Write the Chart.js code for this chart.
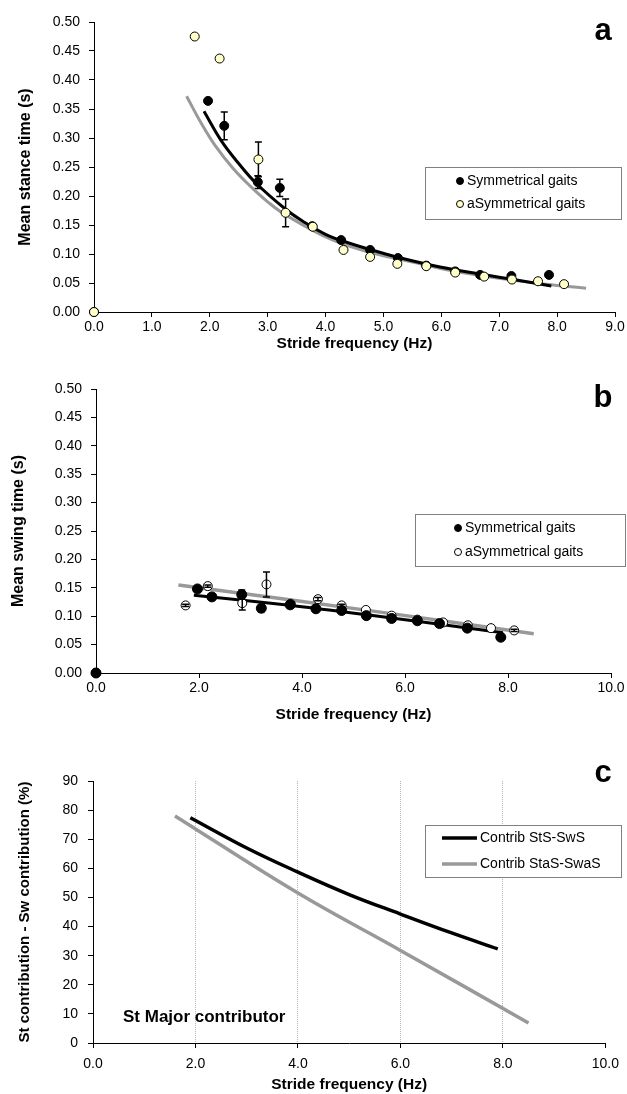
<!DOCTYPE html>
<html>
<head>
<meta charset="utf-8">
<title>Stance / swing time vs stride frequency</title>
<script src="https://cdn.jsdelivr.net/npm/chart.js@4.4.1/dist/chart.umd.min.js"></script>
<style>
  body { margin: 0; background: #fff; }
  #wrap { position: relative; width: 627px; height: 1094px; }
  canvas { position: absolute; left: 0; }
</style>
</head>
<body>
<div id="wrap">
  <canvas id="chartA" width="627" height="357" style="top:0px"></canvas>
  <canvas id="chartB" width="627" height="368" style="top:360px"></canvas>
  <canvas id="chartC" width="627" height="354" style="top:740px"></canvas>
</div>
<script>
// ---- data ----
// symmetrical gaits (black dots)
const symFreq   = [0, 1.97, 2.25, 2.83, 3.21, 3.77, 4.27, 4.77, 5.25, 5.74, 6.24, 6.67, 7.21, 7.86];
const symStance = [0, 0.364, 0.321, 0.224, 0.214, 0.148, 0.124, 0.107, 0.093, 0.080, 0.070, 0.064, 0.062, 0.064];
const symStanceErr = [0, 0, 0.024, 0.011, 0.015, 0, 0, 0, 0, 0, 0, 0, 0, 0];
const symSwing  = [0, 0.148, 0.134, 0.138, 0.114, 0.120, 0.113, 0.110, 0.101, 0.096, 0.092, 0.087, 0.079, 0.063];
const symSwingErr = [0, 0, 0.005, 0.008, 0.006, 0, 0, 0, 0, 0, 0, 0, 0, 0];

// asymmetrical gaits
const asymFreq   = [0, 1.74, 2.17, 2.84, 3.31, 3.78, 4.31, 4.77, 5.24, 5.74, 6.24, 6.74, 7.22, 7.67, 8.12];
const asymStance = [0, 0.475, 0.437, 0.263, 0.171, 0.147, 0.107, 0.095, 0.083, 0.079, 0.068, 0.061, 0.056, 0.053, 0.048];
const asymStanceErr = [0, 0, 0, 0.030, 0.024, 0, 0, 0, 0, 0, 0, 0, 0, 0, 0];
const asymSwing  = [0, 0.119, 0.153, 0.123, 0.156, 0.122, 0.130, 0.119, 0.111, 0.101, 0.094, 0.089, 0.084, 0.079, 0.075];
const asymSwingErr = [0, 0.002, 0.002, 0.012, 0.022, 0, 0.003, 0.002, 0, 0, 0, 0, 0, 0, 0.002];

// fitted curves
const symStanceFitX  = [1.90, 2.2, 2.5, 2.8, 3.3, 3.6, 4.0, 4.4, 4.8, 5.3, 6.0, 6.7, 7.3, 7.9];
const symStanceFitY  = [0.346, 0.295, 0.256, 0.222, 0.178, 0.157, 0.134, 0.119, 0.107, 0.093, 0.077, 0.065, 0.055, 0.045];
const asymStanceFitX = [1.60, 1.85, 2.1, 2.4, 2.7, 3.0, 3.3, 4.1, 4.8, 5.5, 6.2, 7.0, 7.8, 8.5];
const asymStanceFitY = [0.372, 0.326, 0.286, 0.248, 0.217, 0.190, 0.168, 0.125, 0.102, 0.086, 0.071, 0.058, 0.048, 0.041];

const symSwingFitX  = [1.9, 3.8, 5.3, 7.9];
const symSwingFitY  = [0.137, 0.119, 0.102, 0.071];
const asymSwingFitX = [1.6, 5.7, 8.5];
const asymSwingFitY = [0.155, 0.105, 0.069];

// panel c: stance minus swing contribution (%)
const contribSymX  = [1.9, 3.0, 4.0, 5.0, 6.0, 7.0, 7.9];
const contribSymY  = [77.4, 67.0, 58.7, 51.0, 44.3, 37.8, 32.3];
const contribAsymX = [1.6, 4.0, 6.0, 8.5];
const contribAsymY = [78.0, 51.5, 31.8, 6.9];

function pts(xs, ys) { return xs.map((x, i) => ({x: x, y: ys[i]})); }

Chart.defaults.font.family = "'Liberation Sans', Arial, sans-serif";
Chart.defaults.color = '#000';
Chart.defaults.animation = false;

// error bars, drawn through the chart's own scales
const errorBars = {
  id: 'errorBars',
  draw(chart) {
    const ctx = chart.ctx, xs = chart.scales.x, ys = chart.scales.y;
    ctx.save();
    ctx.strokeStyle = '#000';
    ctx.lineWidth = 1.5;
    chart.data.datasets.forEach(ds => {
      if (!ds.errors) return;
      ds.data.forEach((p, j) => {
        const e = ds.errors[j];
        if (!e) return;
        const x = xs.getPixelForValue(p.x);
        const y1 = ys.getPixelForValue(p.y + e), y2 = ys.getPixelForValue(p.y - e);
        ctx.beginPath();
        ctx.moveTo(x, y1); ctx.lineTo(x, y2);
        ctx.moveTo(x - 3.5, y1); ctx.lineTo(x + 3.5, y1);
        ctx.moveTo(x - 3.5, y2); ctx.lineTo(x + 3.5, y2);
        ctx.stroke();
      });
    });
    ctx.restore();
  },
  beforeDatasetsDraw(chart, args, opts) { if (!opts.onTop) this.draw(chart); },
  afterDatasetsDraw(chart, args, opts) { if (opts.onTop) this.draw(chart); }
};

// boxed legend placed inside the plot like the original
const boxLegend = {
  id: 'boxLegend',
  afterDraw(chart, args, o) {
    const ctx = chart.ctx;
    ctx.save();
    ctx.fillStyle = '#fff';
    ctx.fillRect(o.x, o.y, o.w, o.h);
    ctx.strokeStyle = '#808080';
    ctx.lineWidth = 1;
    ctx.strokeRect(o.x + 0.5, o.y + 0.5, o.w, o.h);
    ctx.font = "14px 'Liberation Sans', Arial, sans-serif";
    ctx.textBaseline = 'middle';
    chart.data.datasets.filter(d => d.inLegend).forEach((d, i) => {
      const cy = o.y + o.rows[i];
      if (o.lines) {
        ctx.strokeStyle = d.borderColor;
        ctx.lineWidth = d.borderWidth;
        ctx.beginPath();
        ctx.moveTo(o.lineX[0], cy); ctx.lineTo(o.lineX[1], cy);
        ctx.stroke();
      } else {
        ctx.beginPath();
        ctx.arc(o.markX, cy, 3.5, 0, Math.PI * 2);
        ctx.fillStyle = d.backgroundColor;
        ctx.fill();
        ctx.strokeStyle = '#000';
        ctx.lineWidth = 1;
        ctx.stroke();
      }
      ctx.fillStyle = '#000';
      ctx.fillText(d.label, o.textX, cy);
    });
    ctx.restore();
  }
};

// panel letters and free text
const notes = {
  id: 'notes',
  afterDraw(chart, args, o) {
    const ctx = chart.ctx;
    ctx.save();
    ctx.fillStyle = '#000';
    o.items.forEach(n => {
      ctx.font = n.font;
      ctx.textAlign = n.align || 'left';
      ctx.textBaseline = n.baseline || 'alphabetic';
      ctx.fillText(n.text, n.x, n.y);
    });
    ctx.restore();
  }
};

function xAxis(max, step, h, labelPad, titlePad) {
  return {
    type: 'linear', position: 'bottom', min: 0, max: max,
    border: {color: '#000', width: 1},
    grid: {drawOnChartArea: false, tickLength: 5, tickColor: '#000'},
    ticks: {stepSize: step, padding: labelPad, font: {size: 14}, maxRotation: 0, autoSkip: false,
            callback: v => v.toFixed(1)},
    title: {display: true, text: 'Stride frequency (Hz)', font: {size: 15.5, weight: 'bold'},
            padding: {top: 0, bottom: titlePad}},
    afterFit: s => { s.height = h; }
  };
}

function yAxis(max, step, dec, w, labelPad, title, titleSize) {
  return {
    type: 'linear', position: 'left', min: 0, max: max,
    border: {color: '#000', width: 1},
    grid: {drawOnChartArea: false, tickLength: 5, tickColor: '#000'},
    ticks: {stepSize: step, padding: labelPad, font: {size: 14}, callback: v => v.toFixed(dec)},
    title: {display: true, text: title, font: {size: titleSize, weight: 'bold'}, padding: {top: 0, bottom: 0}},
    afterFit: s => { s.width = w; }
  };
}

// ---- panel a ----
new Chart(document.getElementById('chartA'), {
  type: 'scatter',
  data: {
    datasets: [
      {label: 'Symmetrical gaits', inLegend: true, order: 1, data: pts(symFreq, symStance), errors: symStanceErr,
       pointRadius: 4.5, pointBackgroundColor: '#000', pointBorderColor: '#000', backgroundColor: '#000', borderWidth: 1, clip: false},
      {label: 'aSymmetrical gaits', inLegend: true, order: 0, data: pts(asymFreq, asymStance), errors: asymStanceErr,
       pointRadius: 4.5, pointBackgroundColor: '#ffffc8', pointBorderColor: '#000', backgroundColor: '#ffffc8', borderWidth: 1, clip: false},
      {label: 'fit sym', order: 2, data: pts(symStanceFitX, symStanceFitY), showLine: true, pointRadius: 0,
       borderColor: '#000', borderWidth: 3, tension: 0.4},
      {label: 'fit asym', order: 3, data: pts(asymStanceFitX, asymStanceFitY), showLine: true, pointRadius: 0,
       borderColor: '#999', borderWidth: 3, tension: 0.4}
    ]
  },
  options: {
    responsive: false,
    layout: {padding: {left: 16, top: 22, right: 12, bottom: 0}},
    scales: {
      x: xAxis(9, 1, 45, 2, 4),
      y: yAxis(0.5, 0.05, 2, 78, 9, 'Mean stance time (s)', 16)
    },
    plugins: {
      legend: {display: false}, tooltip: {enabled: false},
      errorBars: {onTop: false},
      boxLegend: {x: 425, y: 167, w: 196, h: 52, rows: [14, 37], markX: 460, textX: 467},
      notes: {items: [{text: 'a', x: 603, y: 40, font: "bold 31px 'Liberation Sans', Arial", align: 'center'}]}
    }
  },
  plugins: [errorBars, boxLegend, notes]
});

// ---- panel b ----
new Chart(document.getElementById('chartB'), {
  type: 'scatter',
  data: {
    datasets: [
      {label: 'Symmetrical gaits', inLegend: true, order: 0, data: pts(symFreq, symSwing), errors: symSwingErr,
       pointRadius: 5, pointBackgroundColor: '#000', pointBorderColor: '#000', backgroundColor: '#000', borderWidth: 1, clip: false},
      {label: 'aSymmetrical gaits', inLegend: true, order: 1, data: pts(asymFreq, asymSwing), errors: asymSwingErr,
       pointRadius: 4.5, pointBackgroundColor: '#fff', pointBorderColor: '#000', backgroundColor: '#fff', borderWidth: 1, clip: false},
      {label: 'fit sym', order: 2, data: pts(symSwingFitX, symSwingFitY), showLine: true, pointRadius: 0,
       borderColor: '#000', borderWidth: 3, tension: 0.3},
      {label: 'fit asym', order: 3, data: pts(asymSwingFitX, asymSwingFitY), showLine: true, pointRadius: 0,
       borderColor: '#999', borderWidth: 3.5, tension: 0.3}
    ]
  },
  options: {
    responsive: false,
    layout: {padding: {left: 9, top: 29, right: 16, bottom: 0}},
    scales: {
      x: xAxis(10, 2, 55, 2, 4),
      y: yAxis(0.5, 0.05, 2, 87, 9, 'Mean swing time (s)', 16)
    },
    plugins: {
      legend: {display: false}, tooltip: {enabled: false},
      errorBars: {onTop: true},
      boxLegend: {x: 415, y: 154, w: 210, h: 52, rows: [14, 38], markX: 458, textX: 465},
      notes: {items: [{text: 'b', x: 603, y: 47, font: "bold 31px 'Liberation Sans', Arial", align: 'center'}]}
    }
  },
  plugins: [errorBars, boxLegend, notes]
});

// ---- panel c ----
const cx = xAxis(10, 2, 51, 8, 0);
cx.grid = {
  drawOnChartArea: true, tickLength: 5, tickColor: '#000', lineWidth: 1,
  color: c => (c.tick && (c.tick.value === 0 || c.tick.value === 10)) ? 'rgba(0,0,0,0)' : '#b4b4b4'
};
cx.border = {color: '#000', width: 1, dash: [1, 1]};

new Chart(document.getElementById('chartC'), {
  type: 'scatter',
  data: {
    datasets: [
      {label: 'Contrib StS-SwS', inLegend: true, order: 0, data: pts(contribSymX, contribSymY), showLine: true,
       pointRadius: 0, borderColor: '#000', borderWidth: 3.5, tension: 0.4},
      {label: 'Contrib StaS-SwaS', inLegend: true, order: 1, data: pts(contribAsymX, contribAsymY), showLine: true,
       pointRadius: 0, borderColor: '#999', borderWidth: 3.5, tension: 0.4}
    ]
  },
  options: {
    responsive: false,
    layout: {padding: {left: 16, top: 41, right: 16, bottom: 0}},
    scales: {
      x: cx,
      y: yAxis(90, 10, 0, 77, 10, 'St contribution - Sw contribution (%)', 15)
    },
    plugins: {
      legend: {display: false}, tooltip: {enabled: false},
      boxLegend: {x: 425, y: 85, w: 196, h: 52, rows: [13, 39], lines: true, lineX: [442, 477], textX: 480},
      notes: {items: [
        {text: 'c', x: 603, y: 42, font: "bold 31px 'Liberation Sans', Arial", align: 'center'},
        {text: 'St Major contributor', x: 123, y: 277, font: "bold 17px 'Liberation Sans', Arial", baseline: 'middle'}
      ]}
    }
  },
  plugins: [boxLegend, notes]
});
</script>
</body>
</html>
